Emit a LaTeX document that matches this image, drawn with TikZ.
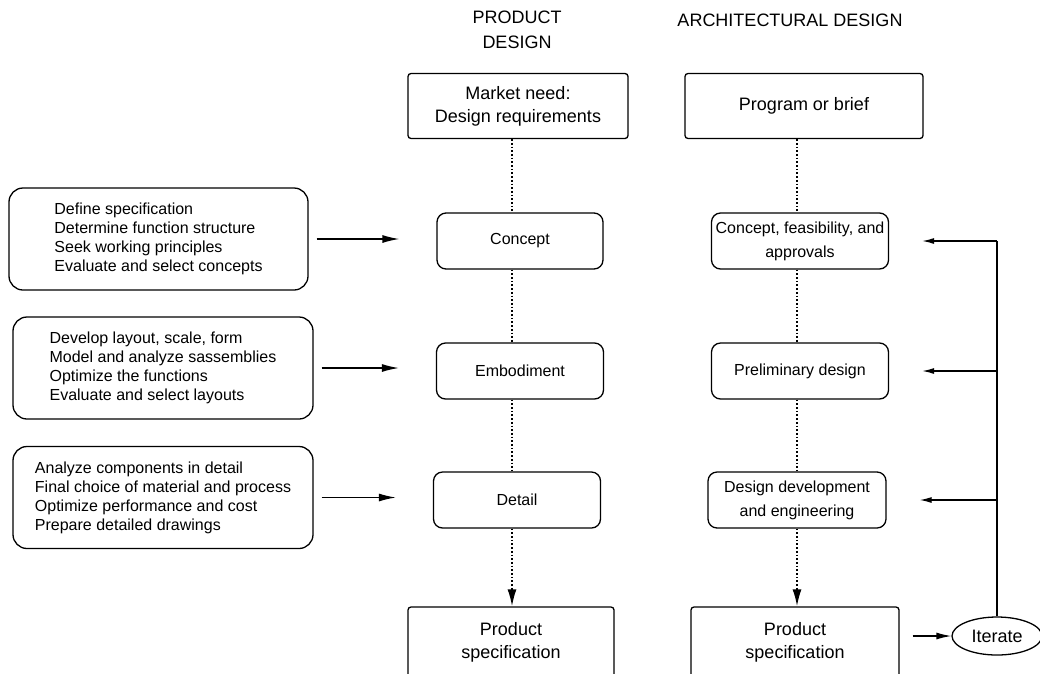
\documentclass[tikz,border=0pt]{standalone}
\usepackage{fontspec}
\setmainfont{Liberation Sans}
\usetikzlibrary{shapes.geometric, positioning, arrows.meta}

\begin{document}
\begin{tikzpicture}[x=1pt, y=-1pt, line width=1.3pt,
    head/.style={align=center, font=\fontsize{18}{25}\selectfont},
    big/.style={draw, rounded corners=3pt, align=center, font=\fontsize{18}{23}\selectfont},
    stage/.style={draw, rounded corners=9pt, align=center, minimum height=56pt, font=\fontsize{16}{24}\selectfont},
    task/.style={draw, rounded corners=14pt, align=left, minimum width=300pt, minimum height=102pt, font=\fontsize{16}{19}\selectfont},
    flow/.style={line width=1.7pt, dash pattern=on 1.7pt off 2pt},
    into/.style={-{Latex[length=17pt,width=8pt]}, shorten >=37pt, shorten <=8pt},
    back/.style={-{Latex[length=12pt,width=6pt]}, shorten >=33pt}]
      \useasboundingbox (0,0) rectangle (1040,673);
      \clip (0,0) rectangle (1040,673);

      \node[head] (phead) at (517,30) {PRODUCT\\DESIGN};
      \node[head] (ahead) at (790,20) {ARCHITECTURAL DESIGN};

      \node[big, minimum width=220pt, minimum height=65pt] (market) at (518,106) {Market need:\\Design requirements};
      \node[big, minimum width=238pt, minimum height=65pt] (brief) at (804,106) {Program or brief};

      \node[stage, minimum width=166pt] (concept) at (520,241) {Concept};
      \node[stage, minimum width=167pt] (embod) at (520,371) {Embodiment};
      \node[stage, minimum width=167pt] (detail) at (517,500) {Detail};

      \node[stage, minimum width=177pt] (cfa) at (800,241) {Concept, feasibility, and\\approvals};
      \node[stage, minimum width=177pt] (prelim) at (800,371) {Preliminary design};
      \node[stage, minimum width=178pt] (ddev) at (797,500) {Design development\\and engineering};

      \node[big, minimum width=206pt, minimum height=70pt] (pspec) at (511,642) {Product\\specification};
      \node[big, minimum width=208pt, minimum height=70pt] (aspec) at (795,642) {Product\\specification};
      \node[draw, ellipse, inner sep=0pt, minimum width=90pt, minimum height=38pt,
        font=\fontsize{18}{22}\selectfont] (iterate) at (997,636) {Iterate};

      \node[task, minimum width=299pt] (task1) at (158.5,239)
      {Define specification\\
        Determine function structure\\
        Seek working principles\\
        Evaluate and select concepts};
      \node[task] (task2) at (163,368)
      {Develop layout, scale, form\\
        Model and analyze sassemblies\\
        Optimize the functions\\
        Evaluate and select layouts};
      \node[task] (task3) at (163,497.5)
      {Analyze components in detail\\
        Final choice of material and process\\
        Optimize performance and cost\\
        Prepare detailed drawings};

      \coordinate (pspine) at (512,0);
      \coordinate (aspine) at (797,0);
      \draw[flow] (market.south -| pspine) -- (concept.north -| pspine);
      \draw[flow] (concept.south -| pspine) -- (embod.north -| pspine);
      \draw[flow] (embod.south -| pspine) -- (detail.north -| pspine);
      \draw[flow, -{Latex[length=17pt,width=9pt]}] (detail.south -| pspine) -- (pspec.north -| pspine);
      \draw[flow] (brief.south -| aspine) -- (cfa.north -| aspine);
      \draw[flow] (cfa.south -| aspine) -- (prelim.north -| aspine);
      \draw[flow] (prelim.south -| aspine) -- (ddev.north -| aspine);
      \draw[flow, -{Latex[length=17pt,width=9pt]}] (ddev.south -| aspine) -- (aspec.north -| aspine);

      \draw[into] (task1.east) -- (task1.east -| concept.west);
      \draw[into] (task2.east) -- (task2.east -| embod.west);
      \draw[into] (task3.east) -- (task3.east -| detail.west);

      \draw[-{Latex[length=15pt,width=7pt]}, shorten <=13pt] (aspec.east |- iterate.west) -- (iterate.west);
      \draw (iterate.north) -- (iterate.north |- cfa.east);
      \draw[back] (iterate.north |- cfa.east) -- (cfa.east);
      \draw[back] (iterate.north |- prelim.east) -- (prelim.east);
      \draw[back] (iterate.north |- ddev.east) -- (ddev.east);
    \end{tikzpicture}
\end{document}
